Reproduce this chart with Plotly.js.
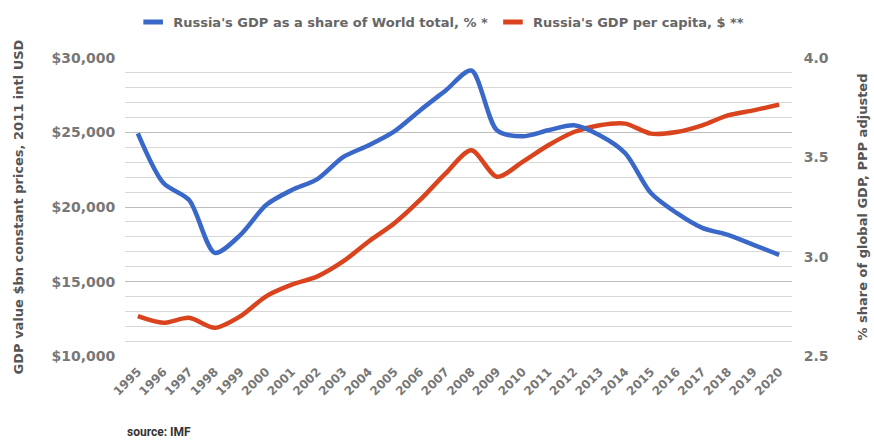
<!DOCTYPE html>
<html><head><meta charset="utf-8">
<script src="https://cdn.plot.ly/plotly-3.0.1.min.js"></script>
<style>html,body{margin:0;padding:0;background:#fff}#chart{width:874px;height:443px}</style>
</head><body><div id="chart"></div>
<script>
const years = [1995,1996,1997,1998,1999,2000,2001,2002,2003,2004,2005,2006,2007,2008,2009,2010,2011,2012,2013,2014,2015,2016,2017,2018,2019,2020];
const shareWorld = [3.62,3.37,3.285,3.02,3.11,3.26,3.335,3.39,3.50,3.56,3.63,3.735,3.835,3.935,3.635,3.605,3.635,3.66,3.61,3.52,3.32,3.22,3.145,3.11,3.06,3.01];
const gdpPerCapita = [12700,12250,12580,11910,12690,14020,14800,15355,16355,17690,18910,20470,22250,23800,22020,23020,24130,25020,25470,25580,24910,25020,25470,26130,26470,26850];
const leftTicks = [10000,15000,20000,25000,30000];
const leftTickText = ['$10,000','$15,000','$20,000','$25,000','$30,000'];
const minorGrid = [11000,12000,13000,14000,16000,17000,18000,19000,21000,22000,23000,24000,26000,27000,28000,29000];
const rightTicks = [2.5,3.0,3.5,4.0];
const rightTickText = ['2.5','3.0','3.5','4.0'];
const names = ["Russia's GDP as a share of World total, % *", "Russia's GDP per capita, $ **"];
const blue = '#3a68c8', red = '#d9441e';
const fnt = '"DejaVu Sans", Arial, sans-serif';
const fnt2 = 'Roboto, Arial, sans-serif';
const gray = '#777';
const clear = 'rgba(0,0,0,0)';
const leftRange = [9960, 30040];

const traces = [
  {x: [null], y: [null], yaxis: 'y3', mode: 'lines', showlegend: false, hoverinfo: 'skip'},
  {x: [null], y: [null], yaxis: 'y4', mode: 'lines', showlegend: false, hoverinfo: 'skip'},
  {x: years, y: shareWorld, yaxis: 'y2', mode: 'lines', line: {color: blue, width: 4.5, shape: 'spline', smoothing: 0.8}, showlegend: false, name: names[0]},
  {x: years, y: gdpPerCapita, mode: 'lines', line: {color: red, width: 4.5, shape: 'spline', smoothing: 0.8}, showlegend: false, name: names[1]},
  {x: [null], y: [null], mode: 'markers', name: names[0], marker: {color: blue, symbol: 'line-ew-open', size: 14, line: {color: blue, width: 5}}},
  {x: [null], y: [null], mode: 'markers', name: names[1], marker: {color: red, symbol: 'line-ew-open', size: 14, line: {color: red, width: 5}}}
];

const layout = {
  width: 874, height: 443,
  margin: {l: 125, r: 82, t: 57, b: 86, autoexpand: false},
  paper_bgcolor: '#fff', plot_bgcolor: '#fff',
  font: {family: fnt, color: gray, size: 13, weight: 'bold'},
  showlegend: true,
  legend: {orientation: 'h', x: 0.474, xanchor: 'center', yref: 'container', y: 0.95, yanchor: 'middle',
    font: {family: fnt, size: 13, color: '#666', weight: 'bold'}, itemwidth: 30, tracegroupgap: 0},
  xaxis: {range: [1994.5, 2020.5], tickmode: 'array', tickvals: years, ticktext: years.map(String),
    tickangle: -45, showgrid: false, zeroline: false, showline: false,
    ticks: 'outside', ticklen: 2, tickcolor: clear,
    tickfont: {family: fnt, size: 12, color: gray, weight: 'bold'}},
  yaxis3: {overlaying: 'y', side: 'left', range: leftRange, tickmode: 'array', tickvals: minorGrid,
    showticklabels: false, showgrid: true, gridcolor: '#d8d8d8', gridwidth: 1, zeroline: false, showline: false, ticks: ''},
  yaxis4: {overlaying: 'y', side: 'left', range: leftRange, tickmode: 'array', tickvals: leftTicks,
    showticklabels: false, showgrid: true, gridcolor: '#bdbdbd', gridwidth: 1, zeroline: false, showline: false, ticks: ''},
  yaxis: {range: leftRange, tickmode: 'array', tickvals: leftTicks, ticktext: leftTickText,
    showgrid: false, zeroline: false, showline: false,
    ticks: 'outside', ticklen: 6, tickcolor: clear,
    tickfont: {family: fnt, size: 14, color: gray, weight: 'bold'},
    title: {text: 'GDP value $bn constant prices, 2011 intl USD', standoff: 24,
      font: {family: fnt, size: 13, color: '#555', weight: 'bold'}}},
  yaxis2: {overlaying: 'y', side: 'right', range: [2.497, 4.003], tickmode: 'array', tickvals: rightTicks, ticktext: rightTickText,
    showgrid: false, zeroline: false, showline: false,
    ticks: 'outside', ticklen: 8, tickcolor: clear,
    tickfont: {family: fnt, size: 14, color: gray, weight: 'bold'},
    title: {text: '% share of global GDP, PPP adjusted', standoff: 30,
      font: {family: fnt, size: 13, color: '#555', weight: 'bold'}}},
  annotations: [
    {text: 'source: IMF', xref: 'paper', yref: 'paper', x: 0, xanchor: 'left', y: -0.25, yanchor: 'middle',
      showarrow: false, font: {family: fnt2, size: 12, color: '#333', weight: 'bold'}}
  ]
};
Plotly.newPlot('chart', traces, layout, {displayModeBar: false, staticPlot: true});
</script></body></html>
